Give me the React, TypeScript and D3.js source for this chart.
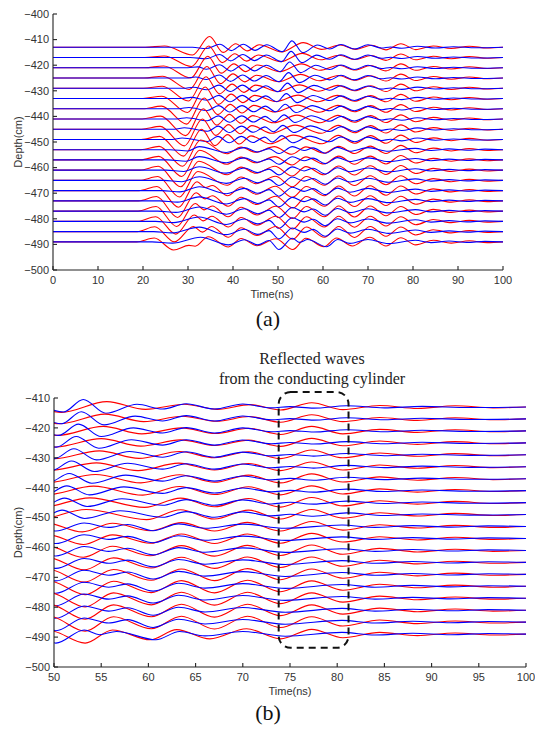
import React from "react";
import * as d3 from "d3";

type Pt = [number, number];

// Trace baselines (cm)
const depths = [-413, -417, -421, -425, -429, -433, -437, -441, -445, -449, -453, -457, -461, -465, -469, -473, -477, -481, -485, -489];

// Tick values
const xTicksA = [0, 10, 20, 30, 40, 50, 60, 70, 80, 90, 100];
const yTicksA = [-400, -410, -420, -430, -440, -450, -460, -470, -480, -490, -500];
const xTicksB = [50, 55, 60, 65, 70, 75, 80, 85, 90, 95, 100];
const yTicksB = [-410, -420, -430, -440, -450, -460, -470, -480, -490, -500];

// Red traces: [time ns, offset cm] at the turning points
const redWaves: Pt[][] = [
  [[0,0],[20.5,0],[24.8,0.5],[31.0,-3.0],[34.8,4.2],[37.8,-2.0],[40.6,1.4],[43.2,-1.4],[45.8,1.0],[50.8,-1.8],[55.6,1.8],[59.7,-0.8],[63.8,0.9],[67.3,-0.8],[70.8,0.8],[74,-1.0],[77.3,1.4],[80.6,-0.9],[84.5,0.5],[88.5,-0.5],[92.5,0.4],[96.5,-0.3],[100,0]],
  [[0,0],[20.4,0],[24.7,0.6],[30.8,-3.5],[34.6,4.5],[37.6,-2.0],[40.4,1.5],[43.0,-1.4],[45.6,1.0],[50.6,-1.6],[55.4,1.6],[59.5,-0.9],[63.6,0.9],[67.2,-0.8],[70.7,0.8],[74,-1.1],[77.3,1.4],[80.6,-0.9],[84.5,0.5],[88.5,-0.5],[92.5,0.4],[96.5,-0.3],[100,0]],
  [[0,0],[20.3,0],[24.6,0.7],[30.6,-4.0],[34.4,4.5],[37.4,-2.1],[40.2,1.5],[42.8,-1.5],[45.4,1.1],[50.4,-1.5],[55.2,1.5],[59.3,-1.0],[63.5,1.0],[67.1,-0.9],[70.6,0.9],[74,-1.2],[77.3,1.5],[80.6,-1.0],[84.5,0.5],[88.5,-0.5],[92.5,0.4],[96.5,-0.3],[100,0]],
  [[0,0],[20.2,0],[24.4,0.7],[30.3,-4.5],[34.2,4.5],[37.2,-2.2],[40.0,1.6],[42.6,-1.5],[45.2,1.1],[50.2,-1.4],[55.0,1.4],[59.2,-1.1],[63.4,1.0],[67.1,-0.9],[70.6,0.9],[74,-1.2],[77.3,1.5],[80.6,-1.0],[84.5,0.6],[88.5,-0.5],[92.5,0.4],[96.5,-0.3],[100,0]],
  [[0,0],[20.1,0],[24.3,0.8],[30.1,-5.0],[34.0,4.5],[37.0,-2.2],[39.8,1.6],[42.4,-1.6],[45.0,1.2],[50.0,-1.3],[54.8,1.3],[59.0,-1.2],[63.3,1.1],[67.0,-1.0],[70.6,1.0],[74,-1.3],[77.3,1.6],[80.6,-1.0],[84.5,0.6],[88.5,-0.5],[92.5,0.4],[96.5,-0.3],[100,0]],
  [[0,0],[20.0,0],[24.2,0.9],[29.9,-5.5],[33.8,4.5],[36.8,-2.3],[39.6,1.7],[42.2,-1.6],[44.8,1.2],[49.6,-1.2],[54.5,1.3],[58.9,-1.3],[63.2,1.2],[67.0,-1.1],[70.6,1.1],[74,-1.3],[77.3,1.6],[80.6,-1.1],[84.5,0.6],[88.5,-0.5],[92.5,0.4],[96.5,-0.3],[100,0]],
  [[0,0],[19.9,0],[24.1,1.0],[29.7,-6.0],[33.6,4.2],[36.6,-2.3],[39.4,1.7],[42.0,-1.7],[44.6,1.3],[49.3,-1.3],[54.4,1.4],[59.2,-1.4],[63.3,1.3],[67.0,-1.2],[70.6,1.2],[74,-1.4],[77.3,1.6],[80.6,-1.1],[84.5,0.6],[88.5,-0.5],[92.5,0.4],[96.5,-0.3],[100,0]],
  [[0,0],[19.8,0],[23.9,1.1],[29.5,-6.5],[33.4,4.0],[36.4,-2.4],[39.2,1.8],[41.8,-1.7],[44.4,1.3],[49.0,-1.5],[54.2,1.5],[59.4,-1.5],[63.3,1.4],[67.0,-1.3],[70.6,1.3],[74,-1.4],[77.3,1.6],[80.6,-1.1],[84.5,0.6],[88.5,-0.5],[92.5,0.4],[96.5,-0.3],[100,0]],
  [[0,0],[19.7,0],[23.8,1.1],[29.2,-6.5],[33.2,4.0],[36.2,-2.4],[39.0,1.8],[41.6,-1.8],[44.2,1.4],[48.6,-1.6],[53.8,1.6],[59.6,-1.6],[63.4,1.5],[67.0,-1.4],[70.6,1.4],[74,-1.5],[77.3,1.7],[80.6,-1.1],[84.5,0.6],[88.5,-0.5],[92.5,0.4],[96.5,-0.3],[100,0]],
  [[0,0],[19.6,0],[23.7,1.2],[29.0,-6.5],[33.0,4.0],[36.0,-2.4],[38.8,1.9],[41.4,-1.8],[44.0,1.4],[48.2,-1.7],[53.4,1.7],[59.8,-1.7],[63.4,1.6],[67.0,-1.5],[70.6,1.5],[74,-1.5],[77.3,1.7],[80.6,-1.2],[84.5,0.6],[88.5,-0.5],[92.5,0.4],[96.5,-0.3],[100,0]],
  [[0,0],[19.5,0],[23.6,1.3],[28.8,-6.5],[32.8,3.8],[38.6,-1.6],[41.8,1.0],[45.0,-1.0],[49.2,1.2],[53.0,-1.8],[56.2,1.1],[60.2,-1.4],[63.5,1.3],[67,-1.5],[70.5,1.4],[74,-1.5],[77.3,1.7],[80.6,-1.2],[84.5,0.6],[88.5,-0.5],[92.5,0.4],[96.5,-0.3],[100,0]],
  [[0,0],[19.4,0],[23.5,1.4],[28.6,-6.5],[32.6,3.8],[38.6,-1.7],[41.8,1.1],[45.0,-1.1],[49.3,1.3],[53.1,-2.0],[56.2,1.2],[60.2,-1.6],[63.5,1.5],[67,-1.7],[70.5,1.5],[74,-1.6],[77.3,1.7],[80.6,-1.2],[84.5,0.6],[88.5,-0.5],[92.5,0.4],[96.5,-0.3],[100,0]],
  [[0,0],[19.3,0],[23.4,1.5],[28.4,-6.5],[32.4,3.5],[38.7,-1.8],[41.8,1.2],[45.1,-1.2],[49.3,1.5],[53.1,-2.3],[56.2,1.4],[60.2,-1.8],[63.5,1.6],[67,-1.9],[70.5,1.7],[74,-1.7],[77.3,1.8],[80.6,-1.3],[84.5,0.7],[88.5,-0.5],[92.5,0.4],[96.5,-0.3],[100,0]],
  [[0,0],[19.2,0],[23.3,1.5],[28.1,-6.5],[32.2,3.5],[38.7,-1.9],[41.8,1.3],[45.1,-1.3],[49.4,1.6],[53.2,-2.5],[56.3,1.5],[60.3,-1.9],[63.5,1.7],[67,-2.0],[70.5,1.8],[74,-1.7],[77.3,1.8],[80.6,-1.3],[84.5,0.7],[88.5,-0.5],[92.5,0.4],[96.5,-0.3],[100,0]],
  [[0,0],[19.1,0],[23.1,1.6],[27.9,-6.5],[32.0,3.5],[33.9,1.2],[35.4,2.0],[38.8,-2.0],[41.8,1.4],[45.2,-1.4],[49.4,1.7],[53.2,-2.6],[56.3,1.6],[60.3,-2.0],[63.5,1.8],[67,-2.1],[70.5,1.9],[74,-1.8],[77.3,1.8],[80.6,-1.3],[84.5,0.7],[88.5,-0.5],[92.5,0.4],[96.5,-0.3],[100,0]],
  [[0,0],[19.0,0],[23.0,1.7],[27.7,-6.5],[31.8,3.2],[33.8,0.8],[35.4,2.0],[38.9,-2.1],[41.8,1.4],[45.2,-1.4],[49.5,1.8],[53.3,-2.8],[56.3,1.7],[60.3,-2.1],[63.5,1.9],[67,-2.2],[70.5,2.0],[74,-1.8],[77.3,1.8],[80.6,-1.3],[84.5,0.7],[88.5,-0.5],[92.5,0.4],[96.5,-0.3],[100,0]],
  [[0,0],[18.9,0],[22.9,1.8],[27.5,-6.0],[31.6,3.0],[33.6,0.5],[35.4,2.0],[38.9,-2.2],[41.8,1.5],[45.3,-1.5],[49.5,1.9],[53.3,-2.9],[56.3,1.8],[60.3,-2.2],[63.5,2.0],[67,-2.3],[70.5,2.0],[74,-1.8],[77.3,1.8],[80.6,-1.3],[84.5,0.7],[88.5,-0.5],[92.5,0.4],[96.5,-0.3],[100,0]],
  [[0,0],[18.8,0],[22.8,1.8],[27.3,-5.0],[31.4,2.5],[33.4,0.2],[35.3,2.0],[39.0,-2.2],[41.8,1.5],[45.3,-1.5],[49.5,2.0],[53.3,-3.0],[56.3,1.8],[60.3,-2.2],[63.5,2.0],[67,-2.3],[70.5,2.0],[74,-1.8],[77.3,1.8],[80.6,-1.3],[84.5,0.7],[88.5,-0.5],[92.5,0.4],[96.5,-0.3],[100,0]],
  [[0,0],[18.7,0],[22.6,1.9],[27.0,-4.0],[31.2,2.0],[33.2,-0.2],[35.2,2.0],[39.0,-2.2],[41.8,1.5],[45.3,-1.5],[49.5,2.0],[53.3,-3.0],[56.3,1.8],[60.3,-2.2],[63.5,2.0],[67,-2.3],[70.5,2.0],[74,-1.8],[77.3,1.8],[80.6,-1.3],[84.5,0.7],[88.5,-0.5],[92.5,0.4],[96.5,-0.3],[100,0]],
  [[0,0],[18.6,0],[22.5,1.5],[26.8,-3.2],[30.2,-1.4],[31.6,-1.7],[34.5,2.0],[39.0,-2.0],[41.8,1.3],[45.3,-1.5],[49.5,1.2],[53.3,-3.0],[56.2,1.4],[60.2,-1.9],[63.0,1.5],[66.5,-1.6],[70.4,1.8],[74,-1.6],[77.3,1.6],[80.6,-1.2],[84.5,0.6],[88.5,-0.5],[92.5,0.4],[96.5,-0.3],[100,0]],
];

// Blue traces: [time ns, offset cm]
const blueWaves: Pt[][] = [
  [[0,0],[31,0],[34,-0.5],[37.1,1.2],[39.6,-1.3],[42.3,1.2],[44.9,-1.2],[47.5,1.0],[51,-1.7],[53.1,2.5],[55.5,-2.1],[58.8,0.9],[61.5,-0.7],[64,1.1],[67,-0.7],[70,1.0],[73,-0.3],[75,0.1],[77.5,-0.4],[81,0.4],[85,-0.3],[89,0.2],[94,-0.2],[100,0]],
  [[0,0],[30.5,0],[34,-0.5],[37.0,1.2],[39.5,-1.3],[42.2,1.2],[44.8,-1.2],[47.4,1.0],[50.8,-1.6],[52.9,2.4],[55.3,-2.0],[58.6,0.95],[61.5,-0.7],[64,1.1],[67,-0.7],[70,1.0],[73,-0.3],[75,0.1],[77.5,-0.4],[81,0.4],[85,-0.3],[89,0.2],[94,-0.2],[100,0]],
  [[0,0],[30,0],[32.2,0.35],[34.1,-0.6],[37.0,1.2],[39.5,-1.3],[42.2,1.2],[44.8,-1.2],[47.4,1.0],[50.5,-1.5],[52.6,2.25],[55.0,-1.9],[58.4,1.0],[61.5,-0.7],[64,1.1],[67,-0.7],[70,1.0],[73,-0.3],[75,0.1],[77.5,-0.4],[81,0.4],[85,-0.3],[89,0.2],[94,-0.2],[100,0]],
  [[0,0],[29.5,0],[31.7,0.4],[34.1,-0.6],[36.95,1.2],[39.45,-1.3],[42.15,1.2],[44.75,-1.2],[47.35,1.0],[50.25,-1.45],[52.35,2.1],[54.75,-1.8],[58.2,1.05],[61.5,-0.75],[64,1.05],[67,-0.75],[70,0.95],[73,-0.3],[75,0.1],[77.5,-0.4],[81,0.4],[85,-0.3],[89,0.2],[94,-0.2],[100,0]],
  [[0,0],[29,0],[31.2,0.4],[34.2,-0.6],[36.9,1.2],[39.4,-1.3],[42.1,1.2],[44.7,-1.2],[47.3,1.0],[50.0,-1.35],[52.1,2.0],[54.5,-1.7],[58.0,1.1],[61.5,-0.8],[64,1.0],[67,-0.8],[70,0.9],[73,-0.35],[75,0.1],[77.5,-0.45],[81,0.45],[85,-0.3],[89,0.2],[94,-0.2],[100,0]],
  [[0,0],[28.5,0],[30.7,0.45],[34.2,-0.7],[36.85,1.2],[39.35,-1.3],[42.05,1.2],[44.65,-1.2],[47.25,1.0],[49.75,-1.3],[51.85,1.9],[54.25,-1.6],[57.8,1.15],[61.5,-0.8],[64,1.0],[67,-0.8],[70,0.9],[73,-0.35],[75,0.1],[77.5,-0.45],[81,0.45],[85,-0.3],[89,0.2],[94,-0.2],[100,0]],
  [[0,0],[28,0],[30.2,0.5],[34.3,-0.7],[36.8,1.2],[39.3,-1.3],[42.0,1.2],[44.6,-1.2],[47.2,1.0],[49.5,-1.2],[51.6,1.75],[54.0,-1.5],[57.6,1.2],[61.5,-0.8],[64,1.0],[67,-0.8],[70,0.9],[73,-0.4],[75,0.1],[77.5,-0.5],[81,0.5],[85,-0.3],[89,0.2],[94,-0.2],[100,0]],
  [[0,0],[27.5,0],[29.7,0.5],[34.3,-0.7],[36.75,1.2],[39.25,-1.3],[41.95,1.2],[44.55,-1.2],[47.15,1.0],[49.25,-1.1],[51.35,1.6],[53.75,-1.4],[57.4,1.25],[61.5,-0.9],[64,1.0],[67,-0.8],[70,0.9],[73,-0.4],[75,0.1],[77.5,-0.5],[81,0.5],[85,-0.3],[89,0.2],[94,-0.2],[100,0]],
  [[0,0],[27,0],[29.2,0.55],[34.4,-0.8],[36.7,1.2],[39.2,-1.3],[41.9,1.2],[44.5,-1.2],[47.1,0.9],[49.0,-1.0],[51.1,1.5],[53.5,-1.3],[57.2,1.3],[61.5,-0.9],[64,1.0],[67,-0.9],[70,0.9],[73,-0.45],[75,0.1],[77.5,-0.5],[81,0.5],[85,-0.3],[89,0.2],[94,-0.2],[100,0]],
  [[0,0],[26.5,0],[28.7,0.55],[34.4,-0.8],[36.65,1.2],[39.15,-1.3],[41.85,1.2],[44.45,-1.2],[47.05,0.9],[48.75,-1.0],[50.85,1.5],[53.25,-1.3],[57.0,1.3],[61.5,-0.9],[64,1.0],[67,-0.9],[70,0.9],[73,-0.45],[75,0.1],[77.5,-0.55],[81,0.55],[85,-0.3],[89,0.2],[94,-0.2],[100,0]],
  [[0,0],[26,0],[30,-0.5],[32.5,1.2],[38.5,-1.1],[42.5,0.8],[45.5,-0.9],[48,0.4],[50.2,-1.5],[53.2,1.2],[55.8,-0.3],[57.8,0.7],[60.5,-1.4],[63.2,0.9],[66,-0.6],[70,0.8],[74.5,-0.6],[80.5,0.5],[84,-0.3],[88,0.3],[92,-0.2],[96,0.2],[100,0]],
  [[0,0],[25.5,0],[29.5,-0.5],[32.5,1.3],[38.5,-1.1],[42.5,0.8],[45.5,-0.9],[48,0.4],[50.2,-1.7],[53.2,1.25],[55.8,-0.3],[57.8,0.7],[60.5,-1.45],[63.2,0.9],[66,-0.6],[70,0.8],[74.5,-0.65],[80.5,0.55],[84,-0.3],[88,0.3],[92,-0.2],[96,0.2],[100,0]],
  [[0,0],[25.1,0],[29.1,-0.5],[32.5,1.35],[38.5,-1.15],[42.5,0.85],[45.5,-0.95],[48,0.4],[50.2,-1.85],[53.2,1.3],[55.8,-0.3],[57.8,0.75],[60.5,-1.5],[63.2,0.95],[66,-0.6],[70,0.85],[74.5,-0.65],[80.5,0.55],[84,-0.3],[88,0.3],[92,-0.2],[96,0.2],[100,0]],
  [[0,0],[24.6,0],[28.6,-0.5],[32.5,1.4],[38.5,-1.15],[42.5,0.85],[45.5,-0.95],[48,0.4],[50.2,-2.0],[53.2,1.3],[55.8,-0.3],[57.8,0.75],[60.5,-1.5],[63.2,0.95],[66,-0.6],[70,0.85],[74.5,-0.7],[80.5,0.6],[84,-0.3],[88,0.3],[92,-0.2],[96,0.2],[100,0]],
  [[0,0],[24.2,0],[28.2,-0.5],[32.5,1.5],[38.5,-1.2],[42.5,0.9],[45.5,-1.0],[48,0.4],[50.2,-2.2],[53.2,1.35],[55.8,-0.3],[57.8,0.8],[60.5,-1.55],[63.2,1.0],[66,-0.6],[70,0.9],[74.5,-0.7],[80.5,0.6],[84,-0.3],[88,0.3],[92,-0.2],[96,0.2],[100,0]],
  [[0,0],[23.7,0],[27.7,-0.5],[32.5,1.55],[38.5,-1.2],[42.5,0.9],[45.5,-1.0],[48,0.4],[50.2,-2.35],[53.2,1.35],[55.8,-0.3],[57.8,0.8],[60.5,-1.6],[63.2,1.0],[66,-0.6],[70,0.9],[74.5,-0.7],[80.5,0.6],[84,-0.3],[88,0.3],[92,-0.2],[96,0.2],[100,0]],
  [[0,0],[23.3,0],[27.3,-0.5],[32.5,1.6],[38.5,-1.2],[42.5,0.9],[45.5,-1.0],[48,0.4],[50.2,-2.5],[53.2,1.4],[55.8,-0.3],[57.8,0.8],[60.5,-1.6],[63.2,1.0],[66,-0.6],[70,0.9],[74.5,-0.7],[80.5,0.6],[84,-0.3],[88,0.3],[92,-0.2],[96,0.2],[100,0]],
  [[0,0],[22.8,0],[26.8,-0.5],[32.5,1.7],[38.5,-1.2],[42.5,0.9],[45.5,-1.0],[48,0.4],[50.2,-2.7],[53.2,1.4],[55.8,-0.3],[57.8,0.8],[60.5,-1.7],[63.2,1.0],[66,-0.6],[70,0.9],[74.5,-0.7],[80.5,0.6],[84,-0.3],[88,0.3],[92,-0.2],[96,0.2],[100,0]],
  [[0,0],[22.4,0],[26.4,-0.5],[32.5,1.75],[38.5,-1.2],[42.5,0.9],[45.5,-1.1],[48,0.4],[50.2,-2.85],[53.2,1.4],[55.8,-0.3],[57.8,0.85],[60.5,-1.8],[63.2,1.0],[66,-0.6],[70,0.9],[74.5,-0.7],[80.5,0.6],[84,-0.3],[88,0.3],[92,-0.2],[96,0.2],[100,0]],
  [[0,0],[22,0],[26.5,-0.5],[32.8,1.8],[39,-1.2],[42.5,0.8],[45.5,-1.2],[48,0.5],[50.2,-3.0],[53.2,1.4],[54.8,-0.2],[56.6,0.9],[60.8,-1.9],[63.3,0.9],[66,-0.6],[70,0.9],[74.5,-0.7],[80.5,0.6],[84,-0.3],[88,0.3],[92,-0.2],[96,0.2],[100,0]],
];

const xA = d3.scaleLinear().domain([0, 100]).range([53, 503]);
const yA = d3.scaleLinear().domain([-500, -400]).range([270, 14]);
const xB = d3.scaleLinear().domain([50, 100]).range([54, 526]);
const yB = d3.scaleLinear().domain([-500, -410]).range([667, 398]);

const SANS = "'Liberation Sans', Arial, sans-serif";
const SERIF = "'Liberation Serif', 'Times New Roman', serif";
const fmt = (v: number) => (v < 0 ? "\u2212" + Math.abs(v) : String(v));

function Panel(props: {
  xs: d3.ScaleLinear<number, number>;
  ys: d3.ScaleLinear<number, number>;
  xTicks: number[];
  yTicks: number[];
  id: string;
  xLabelX: number;
  tag: string;
  tagX: number;
  tagY: number;
}) {
  const { xs, ys, xTicks, yTicks, id, xLabelX, tag, tagX, tagY } = props;
  const [x0, x1] = xs.range();
  const [yb, yt] = ys.range();
  const mk = (base: number) =>
    d3
      .line<Pt>()
      .x((d) => xs(d[0]))
      .y((d) => ys(base + d[1]))
      .curve(d3.curveMonotoneX);
  return (
    <g>
      <defs>
        <clipPath id={id}>
          <rect x={x0} y={0} width={x1 - x0} height={731} />
        </clipPath>
      </defs>
      <g clipPath={`url(#${id})`} fill="none" strokeWidth={1.1}>
        {depths.map((base, i) => (
          <g key={i}>
            <path d={mk(base)(redWaves[i]) || ""} stroke="#ff0000" />
            <path d={mk(base)(blueWaves[i]) || ""} stroke="#0000ff" />
          </g>
        ))}
      </g>
      <g stroke="#222" strokeWidth={1.1}>
        <line x1={x0} x2={x0} y1={yt} y2={yb} />
        <line x1={x0} x2={x1} y1={yb} y2={yb} />
        {yTicks.map((t) => (
          <line key={"yt" + t} x1={x0} x2={x0 + 4} y1={ys(t)} y2={ys(t)} />
        ))}
        {xTicks.map((t) => (
          <line key={"xt" + t} x1={xs(t)} x2={xs(t)} y1={yb} y2={yb - 4} />
        ))}
      </g>
      <g fontFamily={SANS} fontSize={11} fill="#333">
        {yTicks.map((t) => (
          <text key={"yl" + t} x={x0 - 4} y={ys(t)} dy="0.35em" textAnchor="end">
            {fmt(t)}
          </text>
        ))}
        {xTicks.map((t) => (
          <text key={"xl" + t} x={xs(t)} y={yb + 10.5} dy="0.35em" textAnchor="middle">
            {fmt(t)}
          </text>
        ))}
        <text x={xLabelX} y={yb + 24} dy="0.35em" textAnchor="middle">
          Time(ns)
        </text>
        <text
          transform={`translate(18,${(yt + yb) / 2}) rotate(-90)`}
          dy="0.35em"
          textAnchor="middle"
        >
          Depth(cm)
        </text>
      </g>
      <text x={tagX} y={tagY} fontFamily={SERIF} fontSize={22} textAnchor="middle" fill="#111">
        {tag}
      </text>
    </g>
  );
}

export default function App() {
  const bx0 = xB(73.8);
  const bx1 = xB(81.2);
  const by0 = yB(-408);
  const by1 = yB(-493.6);
  return (
    <div style={{ position: "absolute", left: 0, top: 0 }}>
      <svg width={535} height={731} style={{ display: "block", background: "#fff" }}>
        <Panel xs={xA} ys={yA} xTicks={xTicksA} yTicks={yTicksA} id="clipA" xLabelX={272} tag="(a)" tagX={268} tagY={326} />
        <Panel xs={xB} ys={yB} xTicks={xTicksB} yTicks={yTicksB} id="clipB" xLabelX={290} tag="(b)" tagX={268} tagY={720} />
        <g fontFamily={SERIF} fontSize={16} fill="#222" textAnchor="middle">
          <text x={312} y={364}>Reflected waves</text>
          <text x={312} y={384}>from the conducting cylinder</text>
        </g>
        <rect
          x={bx0}
          y={by0}
          width={bx1 - bx0}
          height={by1 - by0}
          rx={12}
          ry={12}
          fill="none"
          stroke="#111"
          strokeWidth={2}
          strokeDasharray="7,5"
        />
      </svg>
    </div>
  );
}
